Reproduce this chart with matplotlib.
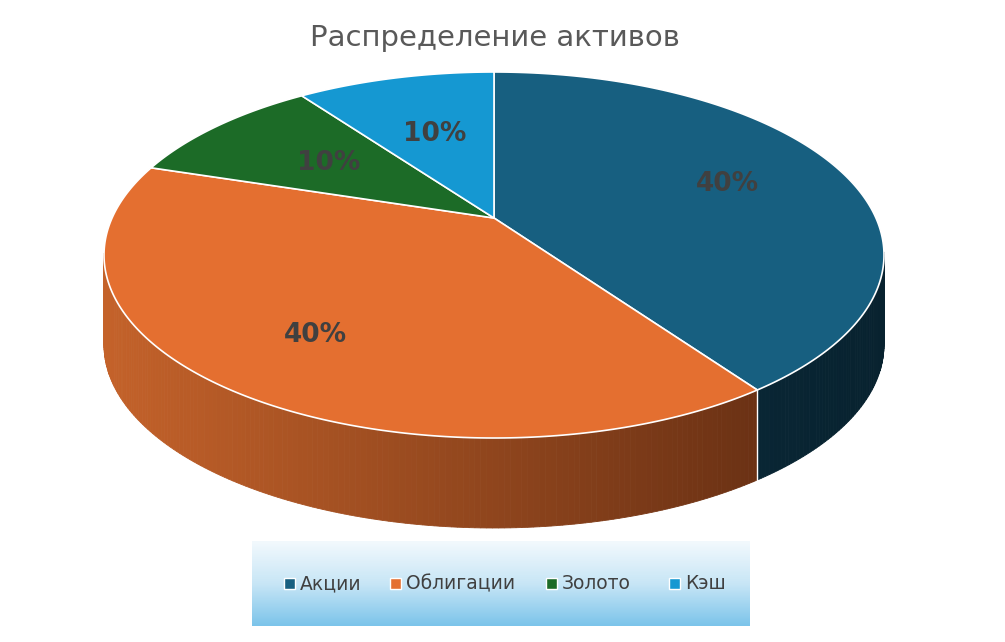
import numpy as np
import matplotlib
matplotlib.use("Agg")
import matplotlib.pyplot as plt
from matplotlib.patches import Polygon, Rectangle
import matplotlib.colors as mc

categories = ["Акции", "Облигации", "Золото", "Кэш"]
values = [40, 40, 10, 10]
labels = ["40%", "40%", "10%", "10%"]
colors = ["#175f80", "#e46f30", "#1c6b27", "#1598d2"]
side_colors = [("#0d3a4f", "#08222f"), ("#c4622a", "#5a2810"), ("#124a1a", "#0c3312"), ("#0e6c97", "#0a5070")]

W, H = 1005, 642
fig = plt.figure(figsize=(W/100, H/100), dpi=100)
ax = fig.add_axes([0, 0, 1, 1])
ax.set_xlim(0, W); ax.set_ylim(H, 0); ax.axis("off")

cx, cy, rx, ry, depth = 494, 255, 390, 183, 90
apex = (494, 218)

def warp(t):
    # perspective-like angular warp (style only)
    return t - np.radians(11) * np.sin(t)

def pt(t, dy=0):
    t = warp(t)
    return cx + rx*np.sin(t), cy - ry*np.cos(t) + dy

fr = np.array(values) / sum(values)
edges = np.concatenate([[0], np.cumsum(fr)]) * 2*np.pi

# side walls
for i in range(len(values)):
    a0, a1 = edges[i], edges[i+1]
    ts = np.linspace(a0, a1, 200)
    ts = ts[[np.cos(warp(t)) <= 0.02 for t in ts]]
    if len(ts) < 2:
        continue
    c_l, c_r = mc.to_rgb(side_colors[i][0]), mc.to_rgb(side_colors[i][1])
    for j in range(len(ts)-1):
        x0, y0 = pt(ts[j]); x1, y1 = pt(ts[j+1])
        f = ((x0+x1)/2 - (cx-rx)) / (2*rx)
        col = tuple(np.array(c_l)*(1-f) + np.array(c_r)*f)
        ax.add_patch(Polygon([(x0, y0), (x1, y1), (x1, y1+depth), (x0, y0+depth)],
                             closed=True, fc=col, ec=col, lw=0.6))
for e in edges:
    if np.cos(warp(e)) < 0:
        x, y = pt(e)
        ax.plot([x, x], [y, y+depth], color="white", lw=1)

# top faces
for i in range(len(values)):
    ts = np.linspace(edges[i], edges[i+1], 200)
    pts = [pt(t) for t in ts]
    ax.add_patch(Polygon([apex] + pts, closed=True, fc=colors[i], ec="white", lw=1.2))
    m = (edges[i] + edges[i+1]) / 2
    ex, ey = pt(m)
    r = 0.68 if fr[i] > 0.2 else 0.6
    ax.text(apex[0] + r*(ex-apex[0]), apex[1] + r*(ey-apex[1]), labels[i], fontsize=19,
            fontweight="bold", color="#404040", ha="center", va="center")

ax.text(W/2 - 8, 38, "Распределение активов", fontsize=21, color="#595959",
        ha="center", va="center")

# legend background gradient
grad = np.linspace(0, 1, 100)[:, None]
cmap = mc.LinearSegmentedColormap.from_list("g", ["#f2f9fd", "#c8e6f6", "#7cc4ea"])
ax.imshow(grad, extent=(252, 750, 626, 541), cmap=cmap, aspect="auto", zorder=0)
lx = [290, 396, 552, 675]
for i, c in enumerate(categories):
    ax.add_patch(Rectangle((lx[i]-6, 578), 11, 11, fc=colors[i], ec="white", lw=1, zorder=2))
    ax.text(lx[i]+10, 583.5, c, fontsize=13.5, color="#404040", va="center", ha="left", zorder=2)

fig.savefig("out.png", dpi=100, facecolor="white")
